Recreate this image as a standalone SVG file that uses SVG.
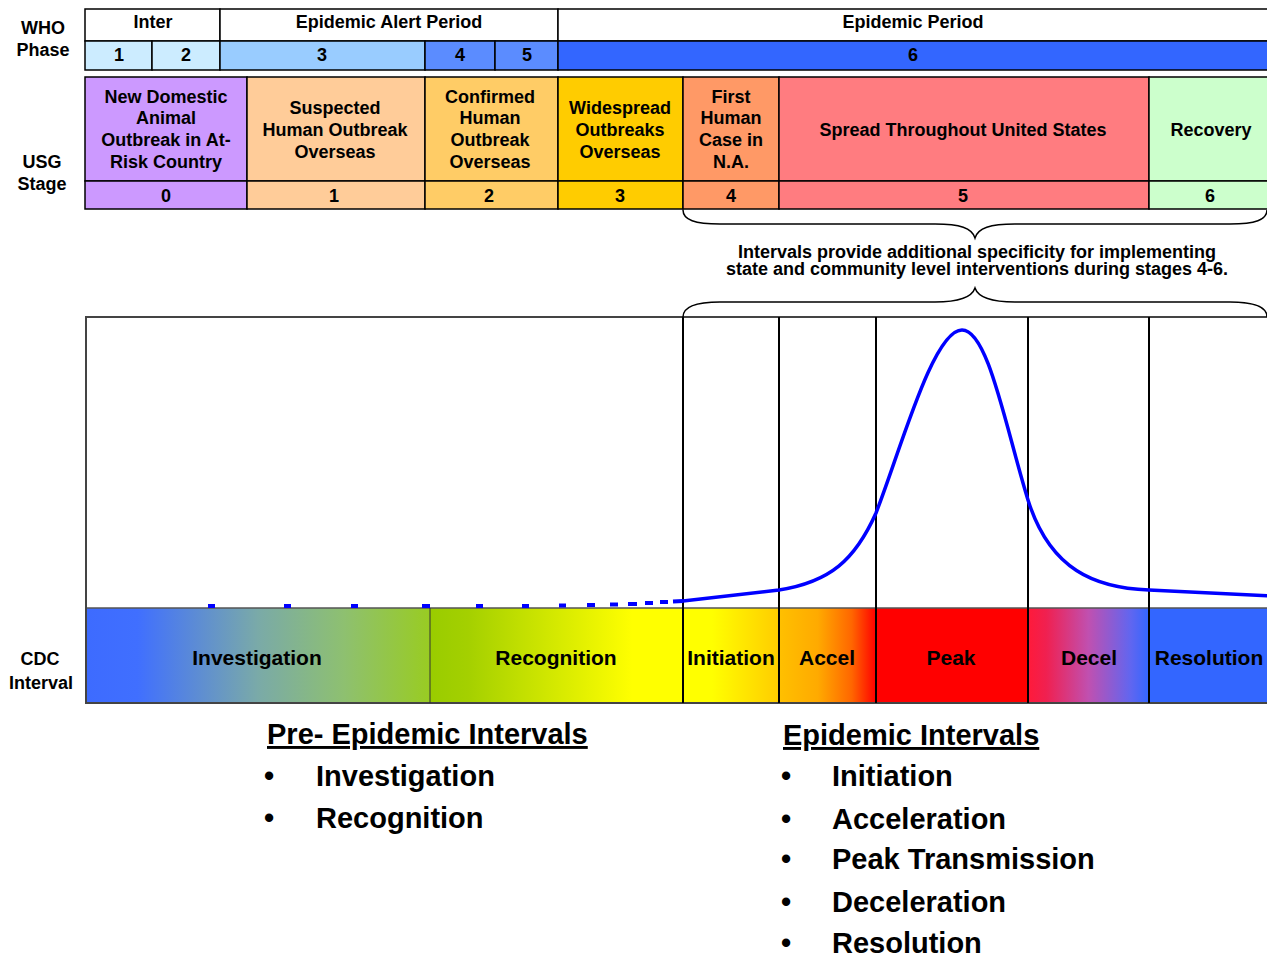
<svg xmlns="http://www.w3.org/2000/svg" width="1267" height="956" viewBox="0 0 1267 956">
<defs>
<style>
text{font-family:"Liberation Sans",Arial,sans-serif;font-weight:bold;fill:#000;}
.h{font-size:18px;text-anchor:middle;}
.lab{font-size:18px;text-anchor:middle;}
.iv{font-size:21px;text-anchor:middle;}
.big{font-size:29px;}
.note{font-size:18px;text-anchor:middle;}
.cell{stroke:#000;stroke-width:1.5;}
.vl{stroke:#000;stroke-width:2;fill:none;}
.brace{stroke:#000;stroke-width:1.5;fill:none;}
</style>
<linearGradient id="gInv" x1="0" y1="0" x2="1" y2="0">
<stop offset="0" stop-color="#3D6BFF"/><stop offset="0.15" stop-color="#406FFF"/><stop offset="0.5" stop-color="#7AAAA8"/><stop offset="0.75" stop-color="#8EC070"/><stop offset="1" stop-color="#99CC22"/>
</linearGradient>
<linearGradient id="gRec" x1="0" y1="0" x2="1" y2="0">
<stop offset="0" stop-color="#99CC00"/><stop offset="0.15" stop-color="#A4D000"/><stop offset="0.8" stop-color="#FFFF00"/><stop offset="1" stop-color="#FFFF00"/>
</linearGradient>
<linearGradient id="gIni" x1="0" y1="0" x2="1" y2="0">
<stop offset="0" stop-color="#FFFF00"/><stop offset="0.3" stop-color="#FFFF00"/><stop offset="1" stop-color="#FFCC00"/>
</linearGradient>
<linearGradient id="gAcc" x1="0" y1="0" x2="1" y2="0">
<stop offset="0" stop-color="#FFC000"/><stop offset="0.4" stop-color="#FFAA00"/><stop offset="0.75" stop-color="#FF6600"/><stop offset="1" stop-color="#FF0000"/>
</linearGradient>
<linearGradient id="gDec" x1="0" y1="0" x2="1" y2="0">
<stop offset="0" stop-color="#FF1A3A"/><stop offset="0.15" stop-color="#F02050"/><stop offset="0.5" stop-color="#C050B0"/><stop offset="0.85" stop-color="#6066F0"/><stop offset="1" stop-color="#3366FF"/>
</linearGradient>
</defs>
<rect width="1267" height="956" fill="#fff"/>

<g id="labels">
<text class="lab" x="43" y="34">WHO</text>
<text class="lab" x="43" y="56">Phase</text>
<text class="lab" x="42" y="168">USG</text>
<text class="lab" x="42" y="190">Stage</text>
<text class="lab" x="40" y="665">CDC</text>
<text class="lab" x="41" y="689">Interval</text>
</g>

<g id="who-periods">
<g id="who-inter"><rect class="cell" x="85" y="9" width="135" height="32" fill="#fff"/><text class="h" x="153" y="28">Inter</text></g>
<g id="who-alert"><rect class="cell" x="220" y="9" width="338" height="32" fill="#fff"/><text class="h" x="389" y="28">Epidemic Alert Period</text></g>
<g id="who-epidemic"><rect class="cell" x="558" y="9" width="712" height="32" fill="#fff"/><text class="h" x="913" y="28">Epidemic Period</text></g>
</g>
<g id="who-phases">
<g id="who-1"><rect class="cell" x="85" y="41" width="67" height="29" fill="#CCECFF"/><text class="h" x="119" y="61">1</text></g>
<g id="who-2"><rect class="cell" x="152" y="41" width="68" height="29" fill="#CCECFF"/><text class="h" x="186" y="61">2</text></g>
<g id="who-3"><rect class="cell" x="220" y="41" width="205" height="29" fill="#99CCFF"/><text class="h" x="322" y="61">3</text></g>
<g id="who-4"><rect class="cell" x="425" y="41" width="70" height="29" fill="#5B8CFF"/><text class="h" x="460" y="61">4</text></g>
<g id="who-5"><rect class="cell" x="495" y="41" width="63" height="29" fill="#5B8CFF"/><text class="h" x="527" y="61">5</text></g>
<g id="who-6"><rect class="cell" x="558" y="41" width="712" height="29" fill="#3366FF"/><text class="h" x="913" y="61">6</text></g>
</g>

<g id="usg-stages">
<g id="usg-0"><rect class="cell" x="85" y="77" width="162" height="104" fill="#CC99FF"/><rect class="cell" x="85" y="181" width="162" height="28" fill="#CC99FF"/>
<text class="h" x="166" y="103">New Domestic</text><text class="h" x="166" y="124">Animal</text><text class="h" x="166" y="146">Outbreak in At-</text><text class="h" x="166" y="168">Risk Country</text><text class="h" x="166" y="202">0</text></g>
<g id="usg-1"><rect class="cell" x="247" y="77" width="178" height="104" fill="#FFCC99"/><rect class="cell" x="247" y="181" width="178" height="28" fill="#FFCC99"/>
<text class="h" x="335" y="114">Suspected</text><text class="h" x="335" y="136">Human Outbreak</text><text class="h" x="335" y="158">Overseas</text><text class="h" x="334" y="202">1</text></g>
<g id="usg-2"><rect class="cell" x="425" y="77" width="133" height="104" fill="#FFCC66"/><rect class="cell" x="425" y="181" width="133" height="28" fill="#FFCC66"/>
<text class="h" x="490" y="103">Confirmed</text><text class="h" x="490" y="124">Human</text><text class="h" x="490" y="146">Outbreak</text><text class="h" x="490" y="168">Overseas</text><text class="h" x="489" y="202">2</text></g>
<g id="usg-3"><rect class="cell" x="558" y="77" width="125" height="104" fill="#FFCC00"/><rect class="cell" x="558" y="181" width="125" height="28" fill="#FFCC00"/>
<text class="h" x="620" y="114">Widespread</text><text class="h" x="620" y="136">Outbreaks</text><text class="h" x="620" y="158">Overseas</text><text class="h" x="620" y="202">3</text></g>
<g id="usg-4"><rect class="cell" x="683" y="77" width="96" height="104" fill="#FF9966"/><rect class="cell" x="683" y="181" width="96" height="28" fill="#FF9966"/>
<text class="h" x="731" y="103">First</text><text class="h" x="731" y="124">Human</text><text class="h" x="731" y="146">Case in</text><text class="h" x="731" y="168">N.A.</text><text class="h" x="731" y="202">4</text></g>
<g id="usg-5"><rect class="cell" x="779" y="77" width="370" height="104" fill="#FF7C80"/><rect class="cell" x="779" y="181" width="370" height="28" fill="#FF7C80"/>
<text class="h" x="963" y="136">Spread Throughout United States</text><text class="h" x="963" y="202">5</text></g>
<g id="usg-6"><rect class="cell" x="1149" y="77" width="121" height="104" fill="#CCFFCC"/><rect class="cell" x="1149" y="181" width="121" height="28" fill="#CCFFCC"/>
<text class="h" x="1211" y="136">Recovery</text><text class="h" x="1210" y="202">6</text></g>
</g>

<g id="note">
<text class="note" x="977" y="258">Intervals provide additional specificity for implementing</text>
<text class="note" x="977" y="275">state and community level interventions during stages 4-6.</text>
</g>

<g id="chart">
<rect x="86" y="317" width="1190" height="386" fill="#fff" stroke="#444" stroke-width="2"/>
<g id="interval-investigation"><rect x="86" y="608" width="344" height="95" fill="url(#gInv)"/><text class="iv" x="257" y="665">Investigation</text></g>
<g id="interval-recognition"><rect x="430" y="608" width="253" height="95" fill="url(#gRec)"/><text class="iv" x="556" y="665">Recognition</text></g>
<g id="interval-initiation"><rect x="683" y="608" width="96" height="95" fill="url(#gIni)"/><text class="iv" x="731" y="665">Initiation</text></g>
<g id="interval-accel"><rect x="779" y="608" width="97" height="95" fill="url(#gAcc)"/><text class="iv" x="827" y="665">Accel</text></g>
<g id="interval-peak"><rect x="876" y="608" width="152" height="95" fill="#FF0000"/><text class="iv" x="951" y="665">Peak</text></g>
<g id="interval-decel"><rect x="1028" y="608" width="121" height="95" fill="url(#gDec)"/><text class="iv" x="1089" y="665">Decel</text></g>
<g id="interval-resolution"><rect x="1149" y="608" width="121" height="95" fill="#3366FF"/><text class="iv" x="1209" y="665">Resolution</text></g>
<line x1="86" y1="608" x2="1267" y2="608" stroke="#555" stroke-width="1.5"/>
<line x1="86" y1="703" x2="1267" y2="703" stroke="#444" stroke-width="2"/>
<line x1="86" y1="317" x2="86" y2="703" stroke="#444" stroke-width="2"/>
<line x1="430" y1="608" x2="430" y2="703" stroke="#333" stroke-width="1"/>
</g>

<g id="connectors">
<path class="brace" d="M683,210 C683,220 695,224 720,224 L935,224 C960,224 972,228 975,238 C978,228 990,224 1015,224 L1230,224 C1255,224 1267,220 1267,210"/>
<path class="brace" d="M683,317 C683,307 695,302 720,302 L935,302 C960,302 972,297 975,288 C978,297 990,302 1015,302 L1230,302 C1255,302 1267,307 1267,317"/>
<line class="vl" x1="683" y1="317" x2="683" y2="703"/>
<line class="vl" x1="779" y1="317" x2="779" y2="703"/>
<line class="vl" x1="876" y1="317" x2="876" y2="703"/>
<line class="vl" x1="1028" y1="317" x2="1028" y2="703"/>
<line class="vl" x1="1149" y1="317" x2="1149" y2="703"/>
<g id="curve-dashes" stroke="#0000FF" stroke-width="4">
<line x1="208" y1="606" x2="215" y2="606"/>
<line x1="284" y1="606" x2="291" y2="606"/>
<line x1="351" y1="606" x2="358" y2="606"/>
<line x1="422" y1="606" x2="430" y2="606"/>
<line x1="476" y1="606" x2="483" y2="606"/>
<line x1="522" y1="606" x2="529" y2="606"/>
<line x1="559" y1="605.5" x2="566" y2="605.5"/>
<line x1="587" y1="605" x2="595" y2="605"/>
<line x1="610" y1="604.5" x2="618" y2="604.5"/>
<line x1="628" y1="604" x2="637" y2="604"/>
<line x1="645" y1="603" x2="653" y2="603"/>
<line x1="660" y1="602" x2="668" y2="602"/>
<line x1="673" y1="601.5" x2="683" y2="601"/>
</g>
<path id="curve" d="M683,601 L779,590 C830,582 855,560 876,513 C900,452 933,330 962,330 C988,330 1005,425 1028,500 C1050,570 1095,588 1149,590 L1270,596" fill="none" stroke="#0000FF" stroke-width="3.5"/>
</g>

<g id="pre-epidemic-list">
<text class="big" x="267" y="744" text-decoration="underline">Pre- Epidemic Intervals</text>
<text class="big" x="264" y="786">•</text><text class="big" x="316" y="786">Investigation</text>
<text class="big" x="264" y="828">•</text><text class="big" x="316" y="828">Recognition</text>
</g>
<g id="epidemic-list">
<text class="big" x="783" y="745" text-decoration="underline">Epidemic Intervals</text>
<text class="big" x="781" y="786">•</text><text class="big" x="832" y="786">Initiation</text>
<text class="big" x="781" y="829">•</text><text class="big" x="832" y="829">Acceleration</text>
<text class="big" x="781" y="869">•</text><text class="big" x="832" y="869">Peak Transmission</text>
<text class="big" x="781" y="912">•</text><text class="big" x="832" y="912">Deceleration</text>
<text class="big" x="781" y="953">•</text><text class="big" x="832" y="953">Resolution</text>
</g>
</svg>
